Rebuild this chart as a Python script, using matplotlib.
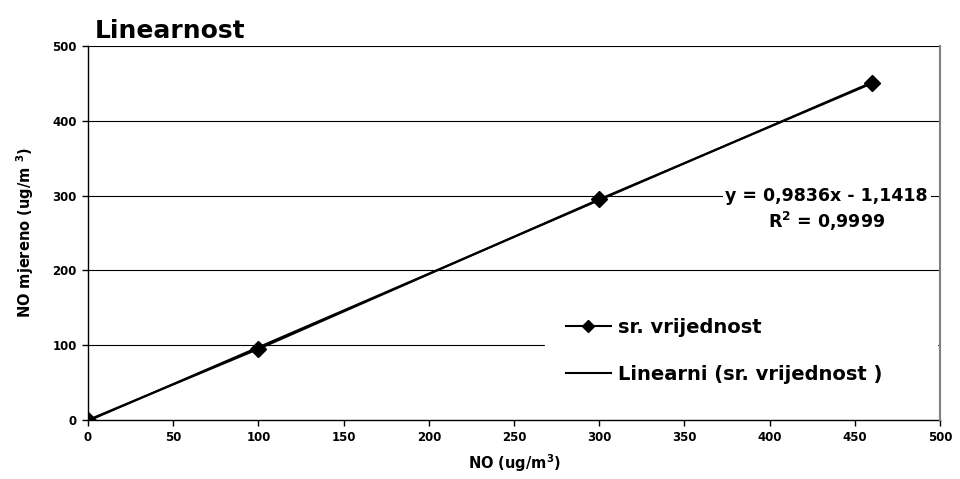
import numpy as np
import matplotlib
matplotlib.use("Agg")
from matplotlib import pyplot as plt

# measured points (NO reference vs NO measured)
no_ref = [0, 100, 300, 460]
no_mjereno = [0, 95, 295, 450]
slope, intercept = 0.9836, -1.1418
x_ticks = [0, 50, 100, 150, 200, 250, 300, 350, 400, 450, 500]
y_ticks = [0, 100, 200, 300, 400, 500]

plt.rcParams['font.family'] = ['DejaVu Sans']

fig = plt.figure(figsize=(9.6, 4.79), dpi=100)
ax = fig.add_axes([0.0917, 0.1232, 0.8875, 0.7808])

# horizontal gridlines like excel
for yv in y_ticks[1:]:
    ax.axhline(yv, color='black', lw=0.8, zorder=1)

trend_x = np.array([0, max(no_ref)])
ax.plot(trend_x, slope * trend_x + intercept, color='black', lw=1.5, zorder=3,
        label='Linearni (sr. vrijednost )')
ax.plot(no_ref, no_mjereno, color='black', lw=1.5, marker='D', markersize=8, zorder=4,
        label='sr. vrijednost')

ax.set_xlim(0, 500)
ax.set_ylim(0, 500)
ax.set_xticks(x_ticks)
ax.set_yticks(y_ticks)
ax.tick_params(labelsize=8.5, direction='out', length=4, width=1, pad=4)
for lab in ax.get_xticklabels() + ax.get_yticklabels():
    lab.set_fontweight('bold')

ax.spines['top'].set_visible(False)
ax.spines['right'].set_color('#808080')
ax.spines['right'].set_linewidth(1.5)
ax.spines['right'].set_zorder(8)
ax.spines['left'].set_linewidth(1)
ax.spines['bottom'].set_linewidth(1)

ax.set_xlabel('NO (ug/m$^\\mathbf{3}$)', fontsize=10.5, fontweight='bold', labelpad=6)
ax.set_ylabel('NO mjereno (ug/m $^\\mathbf{3}$)', fontsize=10.5, fontweight='bold', labelpad=12)
ax.set_title('Linearnost', fontsize=18, fontweight='bold', loc='left', x=0.008, pad=6)

ax.text(0.986, 0.562, 'y = 0,9836x - 1,1418\nR$^\\mathbf{2}$ = 0,9999', transform=ax.transAxes,
        fontsize=12.5, fontweight='bold', ha='right', va='center', linespacing=1.25,
        multialignment='center',
        bbox=dict(facecolor='white', edgecolor='none', pad=2), zorder=5)

handles, labels = ax.get_legend_handles_labels()
leg = ax.legend(handles[::-1], labels[::-1], loc='center left',
                bbox_to_anchor=(0.536, 0.06, 0.46, 0.25), mode='expand',
                borderaxespad=0, frameon=True,
                prop={'weight': 'bold', 'size': 14},
                handlelength=2.3, handletextpad=0.35, labelspacing=1.45,
                borderpad=1.1, fancybox=False, markerscale=0.8)
leg.get_frame().set_edgecolor('white')
leg.get_frame().set_facecolor('white')
leg.get_frame().set_alpha(1)
leg.set_zorder(6)

fig.savefig('out.png', dpi=100)
